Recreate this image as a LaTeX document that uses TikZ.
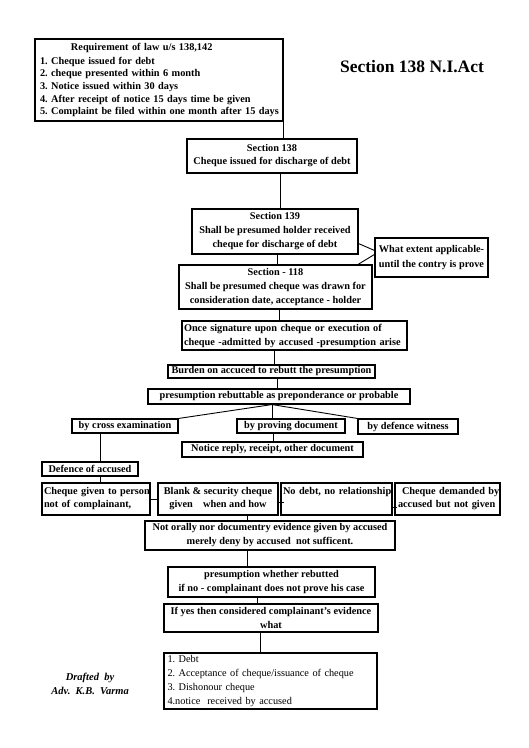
\documentclass[tikz,border=0pt]{standalone}
\usepackage{fontspec}
\setmainfont{Liberation Serif}
\usetikzlibrary{calc}
\frenchspacing
\begin{document}
\begin{tikzpicture}[x=1pt,y=-1pt,
  bx/.style={draw, line width=1.1pt, inner xsep=2pt, inner ysep=0pt,
    font=\bfseries\fontsize{10.3}{14}\selectfont, align=center},
  lbx/.style={bx, align=left},
  ln/.style={line width=0.9pt}]
\useasboundingbox (0,0) rectangle (529,748);

% ---- nodes ----
\node[lbx, minimum width=248, minimum height=82, text width=238, inner xsep=5pt,
  font=\bfseries\fontsize{10.3}{12.6}\selectfont] (req) at (159,80)
  {\mbox{\hspace*{31pt}Requirement of law u/s 138,142}\\[1.4pt]
   \mbox{1. Cheque issued for debt}\\
   \mbox{2. cheque presented within 6 month}\\
   \mbox{3. Notice issued within 30 days}\\
   \mbox{4. After receipt of notice 15 days time be given}\\
   \mbox{5. Complaint be filed within one month after 15 days}};

\node[font=\bfseries\fontsize{17.5}{20}\selectfont, inner sep=0pt] (title) at (412,67) {Section 138 N.I.Act};

\node[bx, minimum width=170, minimum height=34, font=\bfseries\fontsize{10.3}{13}\selectfont] (s138) at (272,156)
  {Section 138\\ Cheque issued for discharge of debt};
\node[bx, minimum width=166, minimum height=45] (s139) at (275,231.5)
  {Section 139\\ Shall be presumed holder received\\ cheque for discharge of debt};
\node[bx, minimum width=193, minimum height=44] (s118) at (275.5,287)
  {Section - 118\\ Shall be presumed cheque was drawn for\\ consideration date, acceptance - holder};
\node[bx, minimum width=113, minimum height=39, font=\bfseries\fontsize{10.3}{15}\selectfont] (what) at (431.5,257.5)
  {What extent applicable-\\ until the contry is prove};

\node[lbx, minimum width=225, minimum height=29, text width=221] (once) at (294.5,335.5)
  {\mbox{Once signature upon cheque or execution of}\\ \mbox{cheque -admitted by accused -presumption arise}};
\node[bx, minimum width=207, minimum height=13] (burden) at (271.5,371.5)
  {Burden on accuced to rebutt the presumption};
\node[bx, minimum width=262, minimum height=15] (presum) at (279,396.5)
  {presumption rebuttable as preponderance or probable};

\node[bx, minimum width=106, minimum height=14] (cross) at (125,426) {by cross examination};
\node[bx, minimum width=108, minimum height=14] (proving) at (291,426) {by proving document};
\node[bx, minimum width=100, minimum height=15] (defence) at (408,426.5) {by defence witness};
\node[bx, minimum width=181, minimum height=15] (notice) at (272.5,449.5) {Notice reply, receipt, other document};
\node[bx, minimum width=96, minimum height=14] (defacc) at (90,469) {Defence of accused};

\node[lbx, minimum width=108, minimum height=32, text width=104, font=\bfseries\fontsize{10.3}{13}\selectfont] (row1) at (96,499)
  {\mbox{Cheque given to person}\\ \mbox{not of complainant,}};
\node[bx, minimum width=120, minimum height=32, font=\bfseries\fontsize{10.3}{13}\selectfont] (row2) at (218,499)
  {Blank \& security cheque\\ given\hspace{1em}when and how};
\node[lbx, minimum width=111, minimum height=32, text width=107, font=\bfseries\fontsize{10.3}{13}\selectfont] (row3) at (336.5,499)
  {\mbox{No debt, no relationship}\\ \strut};
\node[lbx, minimum width=105, minimum height=32, text width=101, font=\bfseries\fontsize{10.3}{13}\selectfont] (row4) at (447.5,499)
  {\mbox{\hspace*{5pt}Cheque demanded by}\\ \mbox{\hspace*{1pt}accused but not given}};

\node[bx, minimum width=250, minimum height=29] (notorally) at (270,535.5)
  {Not orally nor documentry evidence given by accused\\ merely deny by accused\ \ not sufficent.};
\node[bx, minimum width=207, minimum height=30] (whether) at (271.5,582)
  {presumption whether rebutted\\ if no - complainant does not prove his case};
\node[bx, minimum width=214, minimum height=28] (ifyes) at (271,618)
  {If yes then considered complainant's evidence\\ what};
\node[lbx, minimum width=213, minimum height=56, text width=206, inner xsep=3.5pt,
  font=\fontsize{10.3}{14}\selectfont] (last) at (270.5,681)
  {\mbox{1. Debt}\\ \mbox{2. Acceptance of cheque/issuance of cheque}\\
   \mbox{3. Dishonour cheque}\\ \mbox{4.notice\ \ received by accused}};

\node[align=center, inner sep=0pt, font=\bfseries\itshape\fontsize{10.5}{14}\selectfont] (drafted) at (90,684)
  {Drafted\ \ by\\ Adv.\ \ K.B.\ \ Varma};

% ---- connector columns ----
\coordinate (k2) at (280,0);
\coordinate (k3) at (277,0);
\coordinate (k4) at (358,0);
\coordinate (k5) at (279,0);
\coordinate (k6) at (274,0);
\coordinate (k7) at (277,0);
\coordinate (k8) at (272,0);
\coordinate (k9) at (273,0);
\coordinate (k10) at (100,0);
\coordinate (k11) at (247,0);
\coordinate (k12) at (257,0);
\coordinate (k13) at (260,0);

% ---- connectors ----
\draw[ln] (req.south east) -- (req.south east |- s138.north);
\draw[ln] (s138.south -| k2) -- (s139.north -| k2);
\draw[ln] (s139.south -| k3) -- (s118.north -| k3);
\draw[ln] ($(s139.south east)+(0,-11)$) -- ($(what.north west)+(0,13)$);
\draw[ln] (s118.north -| k4) -- ($(what.north west)+(0,17)$);
\draw[ln] (s118.south -| k5) -- (once.north -| k5);
\draw[ln] (once.south -| k6) -- (burden.north -| k6);
\draw[ln] (burden.south -| k7) -- (presum.north -| k7);
\coordinate (br) at (presum.south -| k8);
\draw[ln] (br) -- (cross.north east);
\draw[ln] (br) -- (proving.north -| br);
\draw[ln] (br) -- (defence.north west);
\draw[ln] (proving.south -| k9) -- (notice.north -| k9);
\draw[ln] (cross.south -| k10) -- (defacc.north -| k10);
\draw[ln] (defacc.south -| k10) -- (row1.north -| k10);
\draw[ln] (row1.east) -- (row2.west);
\draw[ln] ($(row2.east)+(0,3)$) -- ($(row3.west)+(4,3)$);
\draw[ln] ($(row3.east)+(0,8)$) -- ($(row4.west)+(3,8)$);
\draw[ln] (row2.south -| k11) -- (notorally.north -| k11);
\draw[ln] (notorally.south -| k11) -- (whether.north -| k11);
\draw[ln] (whether.south -| k12) -- (ifyes.north -| k12);
\draw[ln] (ifyes.south -| k13) -- (last.north -| k13);
\end{tikzpicture}
\end{document}
